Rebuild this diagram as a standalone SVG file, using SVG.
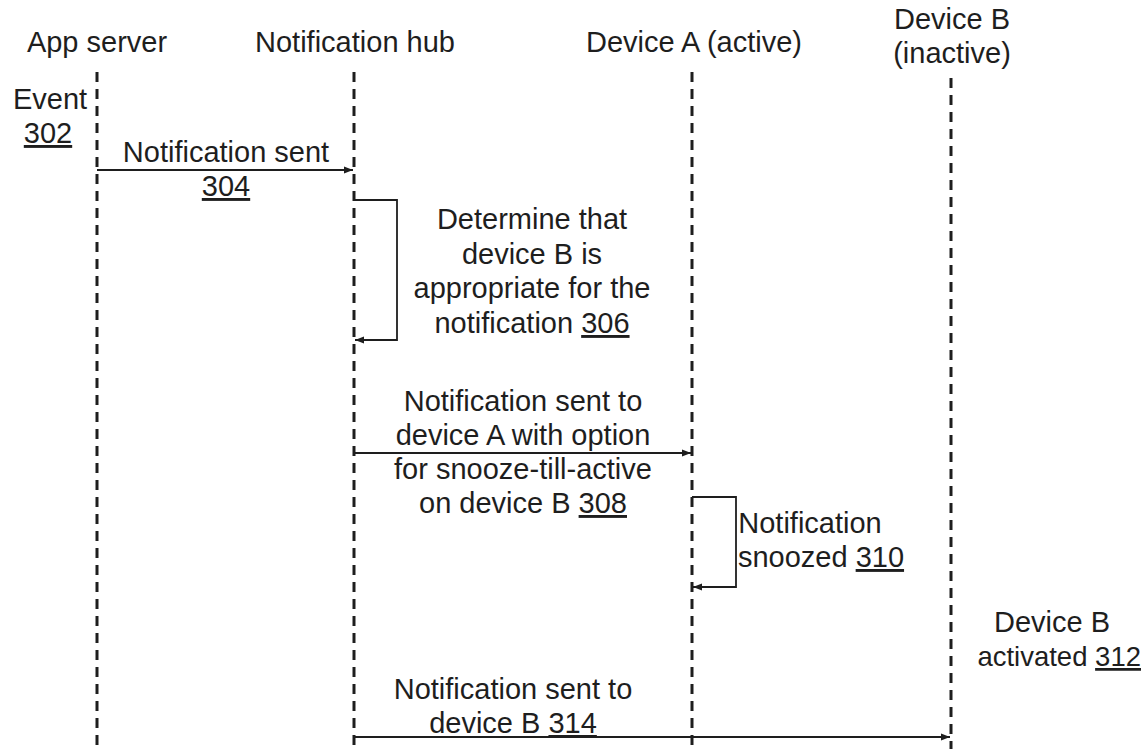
<svg xmlns="http://www.w3.org/2000/svg" width="1146" height="749" viewBox="0 0 1146 749">
<defs>
<style>
text{font-family:"Liberation Sans",Arial,sans-serif;font-size:29px;fill:#1e1e1e;text-anchor:middle}
.life{stroke:#1e1e1e;stroke-width:3;stroke-dasharray:10 7;fill:none}
.msg{stroke:#1e1e1e;stroke-width:1.8;fill:none;marker-end:url(#ah)}
.u{text-decoration:underline}
</style>
<marker id="ah" viewBox="0 0 10 10" refX="10" refY="5" markerWidth="9" markerHeight="9" markerUnits="userSpaceOnUse" orient="auto">
<path d="M0,1 L10,5 L0,9 Z" fill="#1e1e1e"/>
</marker>
</defs>
<rect width="1146" height="749" fill="#fff"/>
<g id="app-server">
<text x="97" y="52">App server</text>
<line class="life" x1="97" y1="72" x2="97" y2="749"/>
</g>
<g id="notification-hub">
<text x="355" y="52">Notification hub</text>
<line class="life" x1="354" y1="72" x2="354" y2="749"/>
</g>
<g id="device-a">
<text x="694" y="52">Device A (active)</text>
<line class="life" x1="692" y1="72" x2="692" y2="749"/>
</g>
<g id="device-b">
<text x="952" y="29">Device B</text>
<text x="952" y="63">(inactive)</text>
<line class="life" x1="951" y1="78" x2="951" y2="749"/>
</g>
<g id="event-302">
<text x="50" y="109">Event</text>
<text x="48" y="143" class="u">302</text>
</g>
<g id="device-b-activated-312">
<text x="1052" y="632">Device B</text>
<text x="1141" y="666" style="text-anchor:end;font-size:27.5px">activated <tspan class="u">312</tspan></text>
</g>
<g id="connectors">
<line class="msg" x1="97" y1="170" x2="353" y2="170"/>
<polyline class="msg" points="354,200 397,200 397,340 355,340"/>
<line class="msg" x1="354" y1="453" x2="691" y2="453"/>
<polyline class="msg" points="692,497 736,497 736,587 693,587"/>
<line class="msg" x1="354" y1="737" x2="950" y2="737"/>
</g>
<g id="label-304">
<text x="226" y="162">Notification sent</text>
<text x="226" y="196" class="u">304</text>
</g>
<g id="label-306">
<text x="532" y="229">Determine that</text>
<text x="532" y="264">device B is</text>
<text x="532" y="298">appropriate for the</text>
<text x="532" y="333">notification <tspan class="u">306</tspan></text>
</g>
<g id="label-308">
<text x="523" y="411">Notification sent to</text>
<text x="523" y="445">device A with option</text>
<text x="523" y="479">for snooze-till-active</text>
<text x="523" y="513">on device B <tspan class="u">308</tspan></text>
</g>
<g id="label-310">
<text x="810" y="533">Notification</text>
<text x="821" y="567">snoozed <tspan class="u">310</tspan></text>
</g>
<g id="label-314">
<text x="513" y="699">Notification sent to</text>
<text x="513" y="733">device B <tspan class="u">314</tspan></text>
</g>
</svg>
